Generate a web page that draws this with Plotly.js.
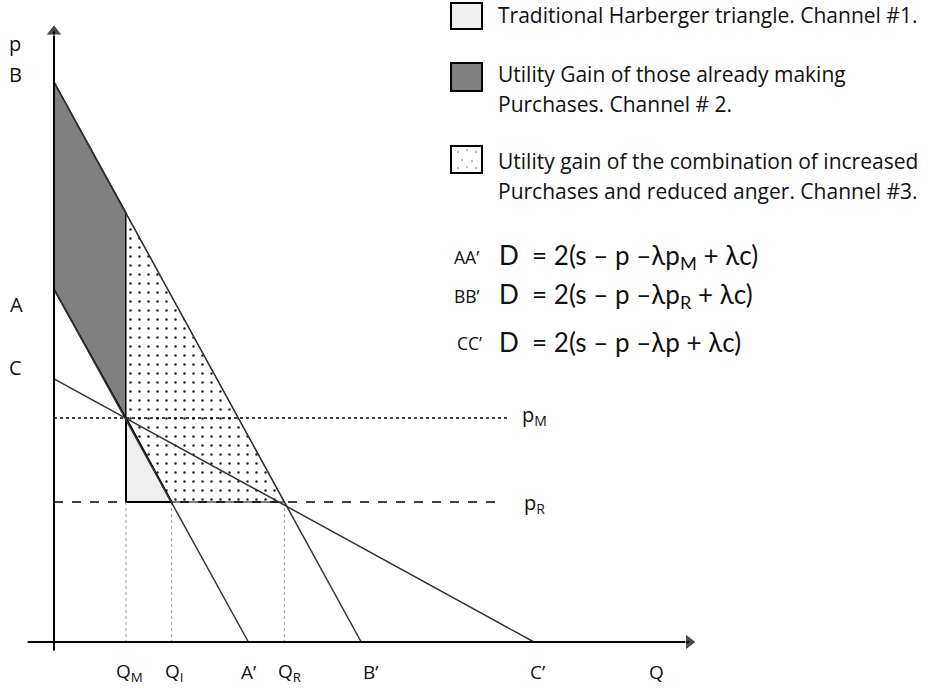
<!DOCTYPE html>
<html>
<head>
<meta charset="utf-8">
<script src="https://cdn.plot.ly/plotly-3.0.1.min.js"></script>
<style>
  html, body { margin: 0; padding: 0; background: #fff; }
  #myPlot { width: 927px; height: 689px; }
</style>
</head>
<body>
<div id="myPlot"></div>
<script>
// Quantities on the Q axis
const Q_M = 1.5;
const Q_I = 2.45;
const Q_R = 4.8;
const A_end = 4.05;   // A'
const B_end = 6.4;    // B'
const C_end = 10.0;   // C'
const Q_max = 13.35;  // end of the Q axis

// Prices on the p axis
const p_B = 10.0;
const p_A = 6.3;
const p_C = 4.7;
const p_M = 4.0;
const p_R = 2.5;
const p_BatQM = 7.66;  // BB' line above Q_M
const p_max = 11.0;    // end of the p axis

// Reference lines length
const pM_lineEnd = 9.5;
const pR_lineEnd = 9.2;

// Legend and equation texts
const legendLines = [
  'Traditional Harberger triangle. Channel #1.',
  'Utility Gain of those already making',
  'Purchases. Channel # 2.',
  'Utility gain of the combination of increased',
  'Purchases and reduced anger. Channel #3.'
];
const eqNames = ['AA’', 'BB’', 'CC’'];
const eqTexts = [
  'D  = 2(s – p –λp<sub>M</sub> + λc)',
  'D  = 2(s – p –λp<sub>R</sub> + λc)',
  'D  = 2(s – p –λp + λc)'
];

// pixel helpers (plot area == page, margins 0)
const W = 927, H = 689;
const X0 = 54, Y0 = 642, SX = 48, SY = 56;
function px(x) { return x / W; }
function py(y) { return 1 - y / H; }

const FONT = '"Open Sans", "Noto Sans", sans-serif';
const EQFONT = 'Lato, "Open Sans", sans-serif';

var gray = {
  x: [0, Q_M, Q_M, 0, 0],
  y: [p_B, p_BatQM, p_M, p_A, p_B],
  mode: 'lines', fill: 'toself', fillcolor: '#808080',
  line: {color: '#000', width: 1.5}
};

var dotted = {
  x: [Q_M, Q_R, Q_I, Q_M, Q_M],
  y: [p_BatQM, p_R, p_R, p_M, p_BatQM],
  mode: 'lines', fill: 'toself', fillcolor: '#fff',
  fillpattern: {shape: '.', fgcolor: '#222', bgcolor: '#fff', size: 9, solidity: 0.06},
  line: {color: '#000', width: 1}
};

var triangle = {
  x: [Q_M, Q_M, Q_I, Q_M],
  y: [p_M, p_R, p_R, p_M],
  mode: 'lines', fill: 'toself', fillcolor: '#efefef',
  line: {color: '#000', width: 2}
};

var pMline = {
  x: [0, pM_lineEnd], y: [p_M, p_M], mode: 'lines',
  line: {color: '#000', width: 1.5, dash: 'dot'}
};
var pRline = {
  x: [0, pR_lineEnd], y: [p_R, p_R], mode: 'lines',
  line: {color: '#000', width: 1.5, dash: 'dash'}
};
var guides = {
  x: [Q_M, Q_M, null, Q_I, Q_I, null, Q_R, Q_R],
  y: [p_R, 0, null, p_R, 0, null, p_R, 0],
  mode: 'lines', line: {color: '#999', width: 1, dash: 'dot'}
};

var AA = {x: [0, A_end], y: [p_A, 0], mode: 'lines', line: {color: '#333', width: 1.5}};
var BB = {x: [0, B_end], y: [p_B, 0], mode: 'lines', line: {color: '#333', width: 1.5}};
var CC = {x: [0, C_end], y: [p_C, 0], mode: 'lines', line: {color: '#333', width: 1.5}};

// axes with arrow heads
var qAxis = {
  x: [-0.55, Q_max - 0.12], y: [0, 0], mode: 'lines+markers',
  line: {color: '#000', width: 2},
  marker: {symbol: 'triangle-right', size: [0, 14], color: '#000'}
};
var pAxis = {
  x: [0, 0], y: [-0.15, p_max - 0.1], mode: 'lines+markers',
  line: {color: '#000', width: 2},
  marker: {symbol: 'triangle-up', size: [0, 14], color: '#000'}
};

var data = [gray, dotted, triangle, pMline, pRline, guides, AA, BB, CC, qAxis, pAxis];

var ann = [];
function lab(text, x, y, size, anchor) {
  ann.push({text: text, x: x, y: y, xref: 'x', yref: 'y', showarrow: false,
    xanchor: anchor || 'center', yanchor: 'middle', font: {family: FONT, size: size || 19, color: '#111'}});
}
// p-axis labels
lab('p', -0.81, 10.68, 20);
lab('B', -0.81, 10.13, 20);
lab('A', -0.79, 6.02, 20);
lab('C', -0.81, 4.91, 20);
// Q-axis labels
lab('Q<sub>M</sub>', Q_M + 0.08, -0.54);
lab('Q<sub>I</sub>', Q_I + 0.06, -0.54);
lab('A’', A_end, -0.54);
lab('Q<sub>R</sub>', Q_R + 0.1, -0.54);
lab('B’', B_end + 0.2, -0.54);
lab('C’', C_end + 0.08, -0.54);
lab('Q', 12.56, -0.54);
// price line labels
lab('p<sub>M</sub>', 9.71, p_M + 0.05, 20, 'left');
lab('p<sub>R</sub>', 9.75, p_R - 0.03, 20, 'left');

// legend text
var legendY = [15, 74, 104, 161, 191];
for (var i = 0; i < legendLines.length; i++) {
  ann.push({text: legendLines[i], x: px(496), y: py(legendY[i]), xref: 'paper', yref: 'paper',
    showarrow: false, xanchor: 'left', yanchor: 'middle', font: {family: FONT, size: 21, color: '#111'}});
}
// equations
var eqY = [256, 295, 342];
var eqX = [452, 452, 455];
for (var i = 0; i < eqTexts.length; i++) {
  ann.push({text: eqNames[i], x: px(eqX[i]), y: py(eqY[i] + 1), xref: 'paper', yref: 'paper',
    showarrow: false, xanchor: 'left', yanchor: 'middle', font: {family: FONT, size: 17.5, color: '#111'}});
  ann.push({text: eqTexts[i], x: px(497), y: py(eqY[i]), xref: 'paper', yref: 'paper',
    showarrow: false, xanchor: 'left', yanchor: 'middle', font: {family: EQFONT, size: 26, color: '#111'}});
}

// legend swatches
var shapes = [];
var boxY = [[3, 29], [63, 91], [146, 173]];
var boxFill = ['#efefef', '#808080', '#fff'];
for (var i = 0; i < 3; i++) {
  shapes.push({type: 'rect', xref: 'paper', yref: 'paper',
    x0: px(451), x1: px(482), y0: py(boxY[i][0]), y1: py(boxY[i][1]),
    fillcolor: boxFill[i], line: {color: '#000', width: 2}});
}
// dots in the third swatch
var dotPos = [[458, 152], [467, 150], [476, 152], [462, 160], [472, 161], [458, 168], [467, 167], [476, 168]];
dotPos.forEach(function(d) {
  shapes.push({type: 'circle', xref: 'paper', yref: 'paper',
    x0: px(d[0] - 0.8), x1: px(d[0] + 0.8), y0: py(d[1] - 0.8), y1: py(d[1] + 0.8),
    fillcolor: '#555', line: {width: 0}});
});

var layout = {
  width: W, height: H,
  margin: {l: 0, r: 0, t: 0, b: 0},
  showlegend: false,
  paper_bgcolor: '#fff', plot_bgcolor: '#fff',
  xaxis: {range: [-X0 / SX, (W - X0) / SX], visible: false, fixedrange: true},
  yaxis: {range: [-(H - Y0) / SY, Y0 / SY], visible: false, fixedrange: true},
  annotations: ann,
  shapes: shapes
};

Plotly.newPlot('myPlot', data, layout, {displayModeBar: false, staticPlot: true});
</script>
</body>
</html>
